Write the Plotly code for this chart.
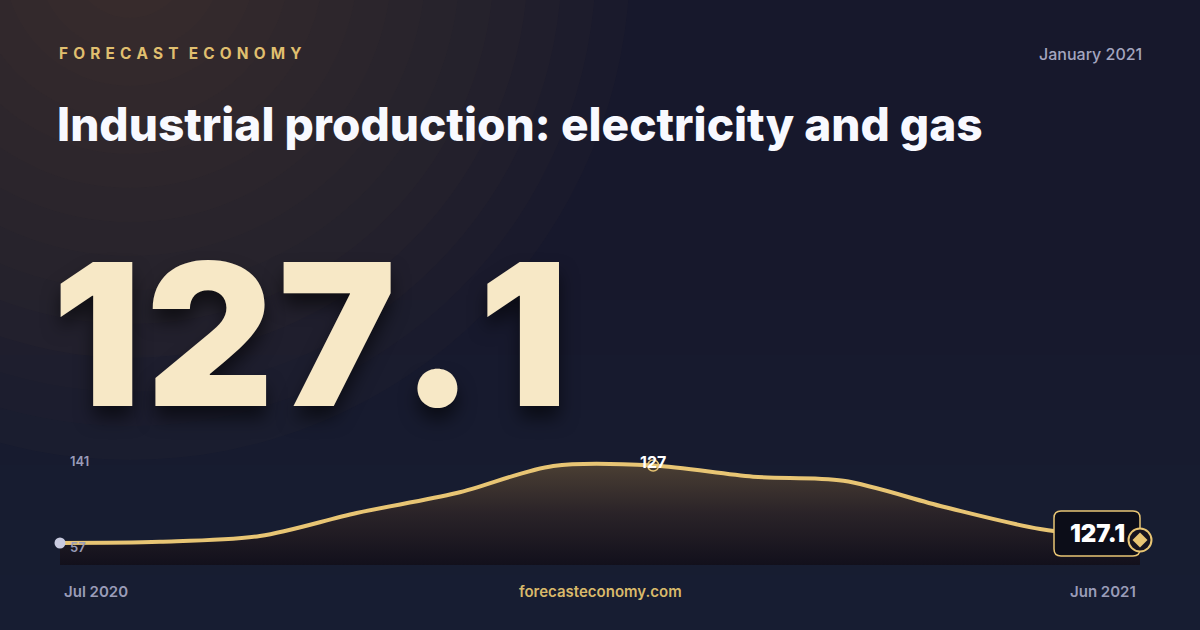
import plotly.graph_objects as go

# monthly index readings, Jul 2020 .. Jun 2021
months = ["2020-07-01", "2020-08-01", "2020-09-01", "2020-10-01", "2020-11-01", "2020-12-01",
          "2021-01-01", "2021-02-01", "2021-03-01", "2021-04-01", "2021-05-01", "2021-06-01"]
values = [60.9, 62.0, 67.7, 90.2, 109.7, 136.1, 136.6, 125.7, 121.7, 96.3, 74.6, 63.8]

y_labels = ["141", "57"]
y_label_vals = [141, 57]
x_labels = ["Jul 2020", "Jun 2021"]

headline = "127.1"
peak_label = "127"
brand = "FORECAST ECONOMY"
period = "January 2021"
title = "Industrial production: electricity and gas"
site = "forecasteconomy.com"

GOLD = "#e8c574"
MUTED = "#9a9cb8"
FONT = "Inter"

W, H = 1200, 630
def px(x): return x / W
def py(y): return 1 - y / H

def spaced(s, gap):
    # fake letter-spacing with narrow unicode spaces
    return (gap * 2).join(gap.join(w) for w in s.split(" "))

fig = go.Figure()

# area + line
fig.add_trace(go.Scatter(
    x=months, y=values, mode="lines",
    line=dict(color=GOLD, width=4, shape="spline", smoothing=0.9),
    fill="tozeroy",
    fillgradient=dict(type="vertical", start=39.4, stop=140,
                      colorscale=[[0, "rgba(18,16,28,1)"], [0.5, "rgba(42,35,40,1)"], [1, "rgba(76,64,52,1)"]]),
    hoverinfo="skip", showlegend=False))

# start dot
fig.add_trace(go.Scatter(x=[months[0]], y=[values[0]], mode="markers", cliponaxis=False,
                         marker=dict(size=11, color="#c9cbe0"), hoverinfo="skip", showlegend=False))
# peak marker
fig.add_trace(go.Scatter(x=[months[6]], y=[values[6]], mode="markers", cliponaxis=False,
                         marker=dict(size=11, color="rgba(0,0,0,0)", line=dict(color=GOLD, width=1.5)),
                         hoverinfo="skip", showlegend=False))

shapes = []
# warm glow top-left
for i in range(14):
    r = 500 - i * 34
    cx, cy = 130, -40
    shapes.append(dict(type="circle", xref="paper", yref="paper", layer="below",
                       x0=px(cx - r), x1=px(cx + r), y0=py(cy + r), y1=py(cy - r),
                       fillcolor="rgba(130,100,60,0.03)", line=dict(width=0)))
# slight blue lift toward bottom
for i in range(6):
    shapes.append(dict(type="rect", xref="paper", yref="paper", layer="below",
                       x0=0, x1=1, y0=0, y1=py(300 + i * 55),
                       fillcolor="rgba(40,44,90,0.035)", line=dict(width=0)))

# badge around last value + end marker, pinned to the right end of the x axis / last value
bw, btop, bbot, rr = 86, 29, 16, 7
path = (f"M {-bw + rr},{btop} L {-rr},{btop} Q 0,{btop} 0,{btop - rr} L 0,{-bbot + rr} "
        f"Q 0,{-bbot} {-rr},{-bbot} L {-bw + rr},{-bbot} Q {-bw},{-bbot} {-bw},{-bbot + rr} "
        f"L {-bw},{btop - rr} Q {-bw},{btop} {-bw + rr},{btop} Z")
end_pin = dict(xref="x domain", yref="y", xsizemode="pixel", ysizemode="pixel",
               xanchor=1, yanchor=values[-1], layer="above")
shapes.append(dict(type="path", path=path, fillcolor="#0c0d18",
                   line=dict(color=GOLD, width=1.5), **end_pin))
shapes.append(dict(type="circle", x0=-11.5, x1=11.5, y0=-11.5, y1=11.5, fillcolor="#16141f",
                   line=dict(color=GOLD, width=2), **end_pin))
shapes.append(dict(type="path", path="M 0,7.5 L 7.5,0 L 0,-7.5 L -7.5,0 Z", fillcolor=GOLD,
                   line=dict(width=0), **end_pin))

ann = []
ann.append(dict(text=spaced(brand, "\u2004"), x=px(57), y=py(53), xanchor="left", yanchor="middle",
                font=dict(family=FONT, size=15.4, color="#e0bf6f", weight=700)))
ann.append(dict(text=period, x=px(1144), y=py(54), xanchor="right", yanchor="middle",
                font=dict(family=FONT, size=16, color="#a3a5bf", weight=500)))
ann.append(dict(text=title, x=px(55), y=py(124), xanchor="left", yanchor="middle",
                font=dict(family=FONT, size=46, color="#f8f9ff", weight=800)))
gap = '<span style="font-size:64px">\u200a</span>'
ann.append(dict(text=gap.join(headline), x=px(50), y=py(334), xanchor="left", yanchor="middle",
                font=dict(family=FONT, size=198, color="#f7e8c6", weight=900,
                          shadow="0px 12px 18px rgba(0,0,0,0.55)")))
for lab, v in zip(y_labels, y_label_vals):
    ann.append(dict(text=lab, x=months[0], y=v, xref="x", yref="y", xanchor="left",
                    yanchor="middle", xshift=8, font=dict(family=FONT, size=13, color=MUTED, weight=600)))
ann.append(dict(text=x_labels[0], x=px(62), y=py(591), xanchor="left", yanchor="middle",
                font=dict(family=FONT, size=15, color=MUTED, weight=600)))
ann.append(dict(text=x_labels[1], x=px(1138), y=py(591), xanchor="right", yanchor="middle",
                font=dict(family=FONT, size=15, color=MUTED, weight=600)))
ann.append(dict(text=site, x=0.5, y=py(591), xanchor="center", yanchor="middle",
                font=dict(family=FONT, size=15, color="#d9b96a", weight=600)))
ann.append(dict(text=peak_label, x=months[6], y=values[6], xref="x", yref="y",
                xanchor="center", yanchor="middle", yshift=4,
                font=dict(family=FONT, size=16, color="#ffffff", weight=700)))
ann.append(dict(text=headline, x=months[-1], y=values[-1], xref="x", yref="y",
                xanchor="center", yanchor="middle", xshift=-43, yshift=7,
                font=dict(family=FONT, size=24, color="#ffffff", weight=900)))
for a in ann:
    a.setdefault("xref", "paper")
    a.setdefault("yref", "paper")
    a["showarrow"] = False

fig.update_layout(
    width=W, height=H,
    margin=dict(l=0, r=0, t=0, b=0),
    paper_bgcolor="#17182c",
    plot_bgcolor="rgba(0,0,0,0)",
    xaxis=dict(domain=[px(60), px(1140)], range=[months[0], months[-1]], visible=False),
    yaxis=dict(domain=[py(565), py(455)], range=[39.4, 146.9], visible=False),
    shapes=shapes, annotations=ann, showlegend=False,
)

fig.write_html("out.html", config={"displayModeBar": False},
               post_script="document.body.style.margin='0';")
